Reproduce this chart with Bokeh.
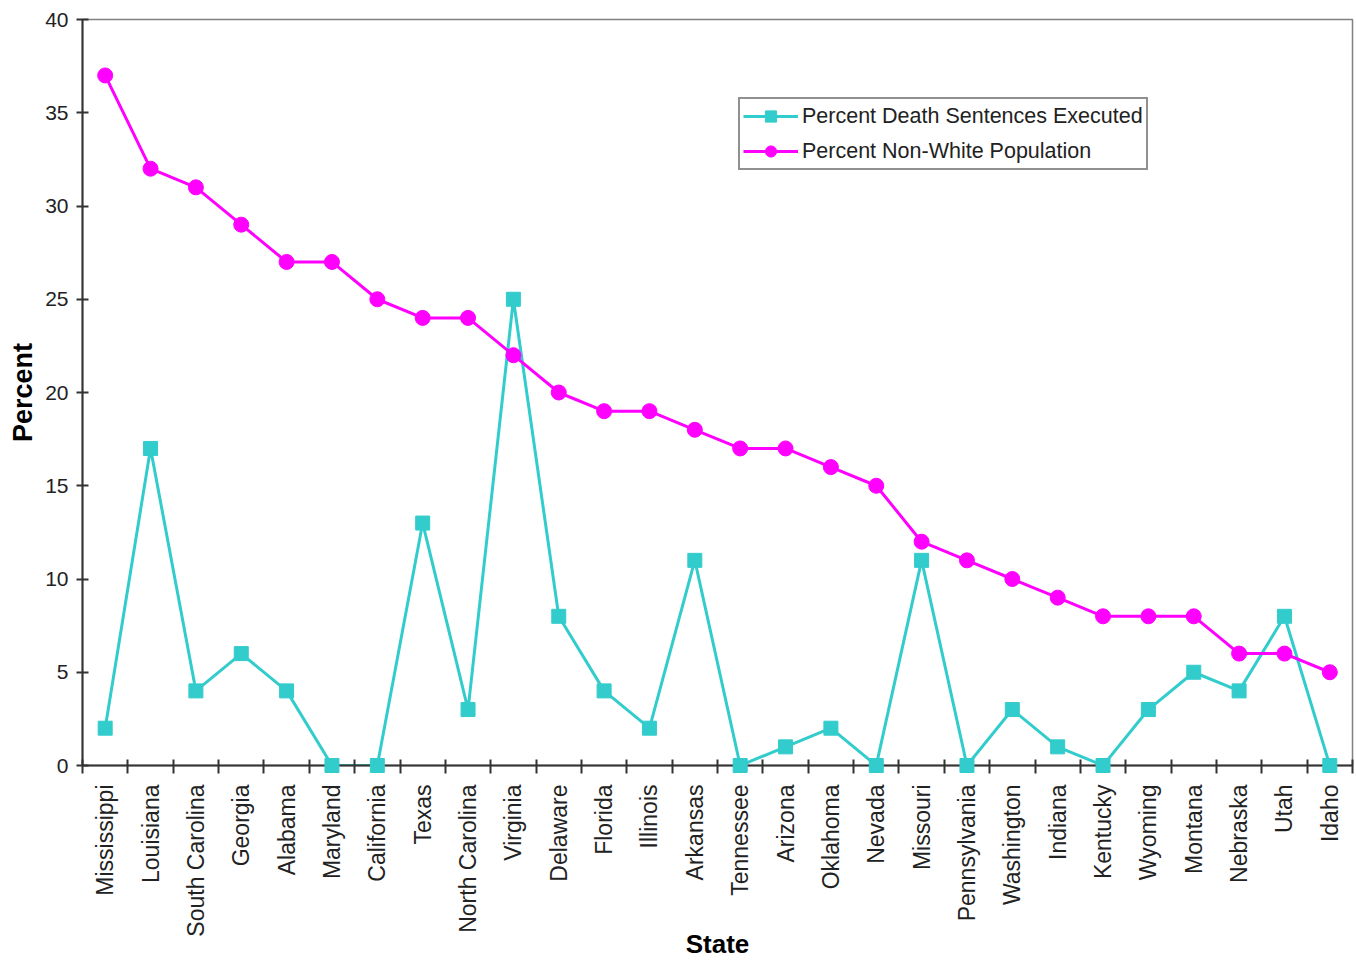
import numpy as np
from bokeh.plotting import figure
from bokeh.models import Range1d, FixedTicker, Legend, LegendItem
from bokeh.embed import file_html
from bokeh.resources import INLINE

states = ["Mississippi", "Louisiana", "South Carolina", "Georgia", "Alabama", "Maryland",
          "California", "Texas", "North Carolina", "Virginia", "Delaware", "Florida",
          "Illinois", "Arkansas", "Tennessee", "Arizona", "Oklahoma", "Nevada", "Missouri",
          "Pennsylvania", "Washington", "Indiana", "Kentucky", "Wyoming", "Montana",
          "Nebraska", "Utah", "Idaho"]
executed = [2, 17, 4, 6, 4, 0, 0, 13, 3, 25, 8, 4, 2, 11, 0, 1, 2, 0, 11, 0, 3, 1, 0, 3, 5, 4, 8, 0]
nonwhite = [37, 32, 31, 29, 27, 27, 25, 24, 24, 22, 20, 19, 19, 18, 17, 17, 16, 15, 12, 11, 10,
            9, 8, 8, 8, 6, 6, 5]
y_ticks = [0, 5, 10, 15, 20, 25, 30, 35, 40]

n = len(states)
xs = np.arange(n) + 0.5

FONT = "Liberation Sans"
CYAN = "#33CCCC"
MAG = "#FF00FF"

p = figure(width=1354, height=961, output_backend="svg", toolbar_location=None,
           x_range=Range1d(0, n), y_range=Range1d(0, 40),
           min_border_left=82, min_border_right=2, min_border_top=19, min_border_bottom=196)
p.grid.visible = False
p.outline_line_color = "#808080"
p.outline_line_width = 1.5
p.background_fill_color = "white"
p.border_fill_color = "white"

l1 = p.line(xs, executed, color=CYAN, line_width=3)
s1 = p.scatter(xs, executed, marker="square", size=14, color=CYAN, level="overlay")
l2 = p.line(xs, nonwhite, color=MAG, line_width=3)
s2 = p.scatter(xs, nonwhite, marker="circle", size=15, color=MAG, level="overlay")

xa = p.xaxis[0]
xa.ticker = FixedTicker(ticks=list(xs), minor_ticks=list(range(n + 1)))
xa.major_label_overrides = {float(x): s for x, s in zip(xs, states)}
xa.major_label_orientation = np.pi / 2
xa.major_tick_in = 0
xa.major_tick_out = 0
xa.minor_tick_in = 6
xa.minor_tick_out = 8
xa.minor_tick_line_color = "#333333"
xa.minor_tick_line_width = 2
xa.major_label_standoff = 11
xa.major_label_text_font = FONT
xa.major_label_text_font_size = "23px"
xa.major_label_text_color = "#222222"
xa.axis_line_color = "#333333"
xa.axis_line_width = 2
xa.axis_label = "State"
xa.axis_label_text_font = FONT
xa.axis_label_text_font_size = "26px"
xa.axis_label_text_font_style = "bold"
xa.axis_label_text_color = "black"
xa.axis_label_standoff = -11

ya = p.yaxis[0]
ya.ticker = FixedTicker(ticks=y_ticks)
ya.minor_tick_line_color = None
ya.major_tick_in = 6
ya.major_tick_out = 6
ya.major_tick_line_color = "#333333"
ya.major_tick_line_width = 2
ya.axis_line_color = "#333333"
ya.axis_line_width = 2
ya.major_label_standoff = 8
ya.major_label_text_font = FONT
ya.major_label_text_font_size = "21px"
ya.major_label_text_color = "#222222"
ya.axis_label = "Percent"
ya.axis_label_text_font = FONT
ya.axis_label_text_font_size = "27px"
ya.axis_label_text_font_style = "bold"
ya.axis_label_text_color = "black"
ya.axis_label_standoff = 4

legend = Legend(items=[
    LegendItem(label="Percent Death Sentences Executed", renderers=[l1, s1]),
    LegendItem(label="Percent Non-White Population", renderers=[l2, s2]),
], location=(656, 595))
legend.label_text_font = FONT
legend.label_text_font_size = "21.5px"
legend.label_text_color = "#222222"
legend.glyph_width = 55
legend.glyph_height = 28
legend.label_standoff = 4
legend.spacing = 7
legend.padding = 3
legend.margin = 0
legend.border_line_color = "#222222"
legend.border_line_width = 2
legend.background_fill_alpha = 1
p.add_layout(legend, "center")

open("out.html", "w").write(file_html(p, INLINE))
